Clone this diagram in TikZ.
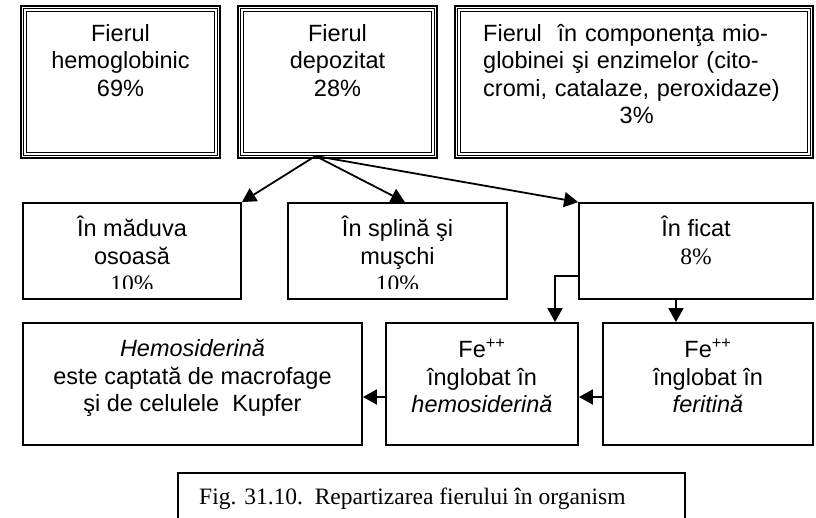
\documentclass[tikz,border=0pt]{standalone}
\usepackage{fontspec}
\setmainfont{Liberation Sans}
\newfontfamily\timesfont{Liberation Serif}
\usetikzlibrary{
    positioning,
    arrows.meta,
    calc
}

\tikzset{
    tribox/.style={draw, line width=2pt, inner sep=0pt},
    box/.style={draw, line width=1.8pt, inner sep=0pt},
    txt/.style={font=\fontsize{23.5}{27.5}\selectfont, align=center, inner sep=0pt},
    arr/.style={line width=1.8pt, -{Triangle[length=14pt,width=15pt]}}
}
\newcommand{\tnr}{\timesfont\fontsize{23.5}{27.5}\selectfont}

\begin{document}
\begin{tikzpicture}[x=1pt, y=-1pt]
        \useasboundingbox (0,0) rectangle (816,518);
        \clip (0,0) rectangle (816,518);

        % Top row
        \node[tribox, minimum width=199, minimum height=152] (hemo) at (120.5,82) {};
        \node[tribox, minimum width=199, minimum height=152] (depo) at (337.5,82) {};
        \node[tribox, minimum width=358, minimum height=152] (mio) at (634,82) {};
        \foreach \n in {hemo,depo,mio} {
            \draw[line width=0.8pt] ($(\n.north west)+(3.5,3.5)$) rectangle ($(\n.south east)+(-3.5,-3.5)$);
            \draw[line width=1.6pt] ($(\n.north west)+(6.5,6.5)$) rectangle ($(\n.south east)+(-6.5,-6.5)$);
        }
        \node[txt, anchor=north] (hemo-t) at (120.5,24) {Fierul\\hemoglobinic\\69\%};
        \node[txt, anchor=north] (depo-t) at (337.5,24) {Fierul\\depozitat\\28\%};
        \node[txt, anchor=north west, align=left, text width=307] (mio-t) at (483,24)
            {\makebox[\linewidth][s]{Fierul\ \ în componenţa mio-}\\
             \makebox[\linewidth][s]{globinei şi enzimelor (cito-}\\
             \makebox[\linewidth][s]{cromi, catalaze, peroxidaze)}\\
             \makebox[\linewidth]{3\%}};

        % Middle row
        \node[box, minimum width=218, minimum height=96] (maduva) at (132,251) {};
        \node[box, minimum width=219, minimum height=96] (splina) at (397.5,251) {};
        \node[box, minimum width=234, minimum height=96] (ficat) at (696,251) {};
        \begin{scope}
            \clip (maduva.north west) rectangle ([yshift=11pt]splina.south east);
            \node[txt, anchor=north] (maduva-t) at (132,216) {În măduva\\osoasă\\{\tnr 10\%}};
            \node[txt, anchor=north] (splina-t) at (397.5,216) {În splină şi\\muşchi\\{\tnr 10\%}};
        \end{scope}
        \node[txt, anchor=north] (ficat-t) at (696,216) {În ficat\\{\tnr 8\%}};

        % Bottom row
        \node[box, minimum width=339, minimum height=122] (hsd) at (192.5,384) {};
        \node[box, minimum width=192, minimum height=122] (fehsd) at (482,384) {};
        \node[box, minimum width=210, minimum height=122] (fefer) at (708,384) {};
        \node[txt, anchor=north] (hsd-t) at (192.5,339) {\textit{Hemosiderină}\\este captată de macrofage\\şi de celulele\ \ Kupfer};
        \node[txt, anchor=north] (fehsd-t) at (482,339) {Fe\textsuperscript{++}\\înglobat în\\\textit{hemosiderină}};
        \node[txt, anchor=north] (fefer-t) at (708,339) {Fe\textsuperscript{++}\\înglobat în\\\textit{feritină}};

        % Arrows
        \coordinate (src) at ([xshift=-22pt, yshift=3pt]depo.south);
        \draw[arr] (src) -- (maduva.north east);
        \draw[arr] (src) -- ([xshift=7.5pt]splina.north);
        \draw[arr] (src) -- (ficat.north west);
        \draw[arr] ([yshift=-25pt]ficat.west) -| ([xshift=73pt]fehsd.north);
        \draw[arr] ([xshift=-20pt]ficat.south) -- ([xshift=-20pt]ficat.south |- fefer.north);
        \draw[arr] ([yshift=-13pt]fefer.west) -- ([yshift=-13pt]fehsd.east);
        \draw[arr] ([yshift=-13pt]fehsd.west) -- ([yshift=-13pt]hsd.east);

        % Caption
        \node[draw, line width=1.6pt, inner sep=0pt, minimum width=507, minimum height=70, anchor=north west] (fig) at (177,472) {};
        \node[anchor=north west, inner sep=0pt, font=\tnr] (fig-t) at (199,488)
            {Fig. 31.10.\ \ Repartizarea fierului în organism};
    \end{tikzpicture}
\end{document}
